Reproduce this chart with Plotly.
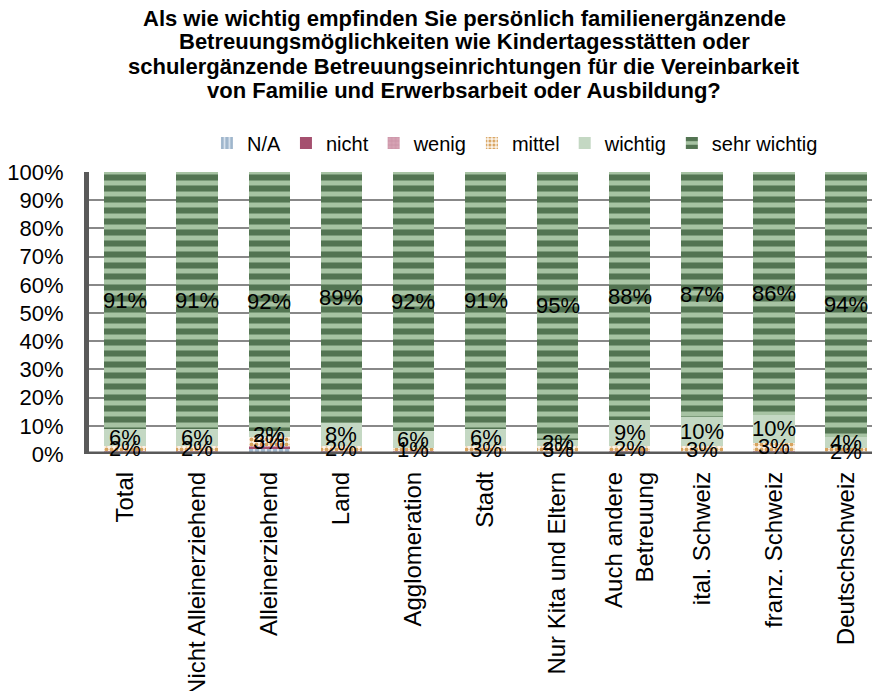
import plotly.graph_objects as go

# Categories (x axis) and answer shares per importance level, in percent
categories = [
    "Total", "Nicht Alleinerziehend", "Alleinerziehend", "Land", "Agglomeration",
    "Stadt", "Nur Kita und Eltern", "Auch andere<br>Betreuung", "ital. Schweiz",
    "franz. Schweiz", "Deutschschweiz",
]
na_vals      = [0,   0,   2,   0,   0,   0, 0, 0,   0,  0,   0]
nicht_vals   = [0.5, 0.5, 0.5, 0.5, 0.5, 0, 0, 0.5, 0,  0.5, 0]
wenig_vals   = [0.5, 0.5, 0.5, 0.5, 0.5, 0, 0, 0.5, 0,  0.5, 0]
mittel_vals  = [2,   2,   3,   2,   1,   3, 3, 2,   3,  3,   2]
wichtig_vals = [6,   6,   2,   8,   6,   6, 2, 9,   10, 10,  4]
sehr_vals    = [91,  91,  92,  89,  92,  91, 95, 88, 87, 86, 94]

series_names = ["N/A", "nicht", "wenig", "mittel", "wichtig", "sehr wichtig"]
series_vals = [na_vals, nicht_vals, wenig_vals, mittel_vals, wichtig_vals, sehr_vals]
labelled = {"mittel", "wichtig", "sehr wichtig"}

title_lines = [
    "Als wie wichtig empfinden Sie persönlich familienergänzende",
    "Betreuungsmöglichkeiten wie Kindertagesstätten oder",
    "schulergänzende Betreuungseinrichtungen für die Vereinbarkeit",
    "von Familie und Erwerbsarbeit oder Ausbildung?",
]

FONT = "Liberation Sans, Arial, sans-serif"
AXIS_GREY = "#595959"

styles = {
    "N/A": dict(color="#9fb6cc",
                pattern=dict(shape="|", bgcolor="#9fb6cc", fgcolor="#dbe5ef",
                             size=6, solidity=0.35, fillmode="replace")),
    "nicht": dict(color="#a5506f"),
    "wenig": dict(color="#d6a3b4",
                  pattern=dict(shape="+", bgcolor="#d6a3b4", fgcolor="#c78ea1",
                               size=5, solidity=0.3, fillmode="replace")),
    "mittel": dict(color="#fbf3e9",
                   pattern=dict(shape=".", bgcolor="#fbf3e9", fgcolor="#d8a35e",
                                size=5, solidity=0.45, fillmode="replace")),
    "wichtig": dict(color="#c4d8c3"),
    "sehr wichtig": dict(color="#a7c3a3",
                         pattern=dict(shape="-", bgcolor="#a7c3a3", fgcolor="#537452",
                                      size=11, solidity=0.55, fillmode="replace")),
}

fig = go.Figure()
for name, vals in zip(series_names, series_vals):
    fig.add_trace(go.Bar(
        name=name,
        x=categories,
        y=[v / 100 for v in vals],
        marker=dict(line=dict(width=0), **styles[name]),
        hoverinfo="skip",
    ))

# Value labels centred in their stacked segment
annotations = []
for i, cat in enumerate(categories):
    base = 0.0
    for name, vals in zip(series_names, series_vals):
        v = vals[i]
        if name in labelled and v >= 1:
            annotations.append(dict(
                x=cat, y=(base + v / 2) / 100, xref="x", yref="y",
                text=f"{v:.0f}%", showarrow=False,
                font=dict(family=FONT, size=22, color="#000000"),
            ))
        base += v

# Four-line bold heading with tight line spacing
PLOT_TOP, PLOT_H = 172, 282
for k, line in enumerate(title_lines):
    centre_px = 18 + 24 * k
    annotations.append(dict(
        x=0.479, xref="paper", xanchor="center",
        y=1 + (PLOT_TOP - centre_px) / PLOT_H, yref="paper", yanchor="middle",
        text=f"<b>{line}</b>", showarrow=False,
        font=dict(family=FONT, size=22, color="#000000"),
    ))

fig.update_layout(
    barmode="stack",
    bargap=0.425,
    width=872,
    height=691,
    margin=dict(l=89, r=0, t=PLOT_TOP, b=691 - PLOT_TOP - PLOT_H),
    paper_bgcolor="white",
    plot_bgcolor="white",
    font=dict(family=FONT, color="#000000"),
    legend=dict(
        orientation="h",
        x=0.544, xanchor="center",
        y=1.103, yanchor="middle",
        font=dict(family=FONT, size=20, color="#000000"),
        traceorder="normal",
        bgcolor="rgba(0,0,0,0)",
    ),
    annotations=annotations,
    # heavy baseline drawn on the 0 % level, over the foot of the bars
    shapes=[dict(type="line", xref="paper", yref="y", x0=-0.004, x1=1, y0=0, y1=0,
                 line=dict(color=AXIS_GREY, width=5), layer="above")],
    xaxis=dict(
        range=[-0.5, 10.36],
        tickangle=-90,
        tickfont=dict(family=FONT, size=24, color="#000000"),
        showline=False,
        showgrid=False, ticks="",
        ticklabelstandoff=12,
        automargin=False,
    ),
    yaxis=dict(
        range=[0, 1],
        dtick=0.1,
        tickformat=".0%",
        tickfont=dict(family=FONT, size=22, color="#000000"),
        showline=True, linewidth=5, linecolor=AXIS_GREY,
        showgrid=True, gridcolor="#888888", gridwidth=1.5,
        zeroline=False, ticks="",
        ticklabelstandoff=16,
        automargin=False,
    ),
)

fig.write_html("out.html")
